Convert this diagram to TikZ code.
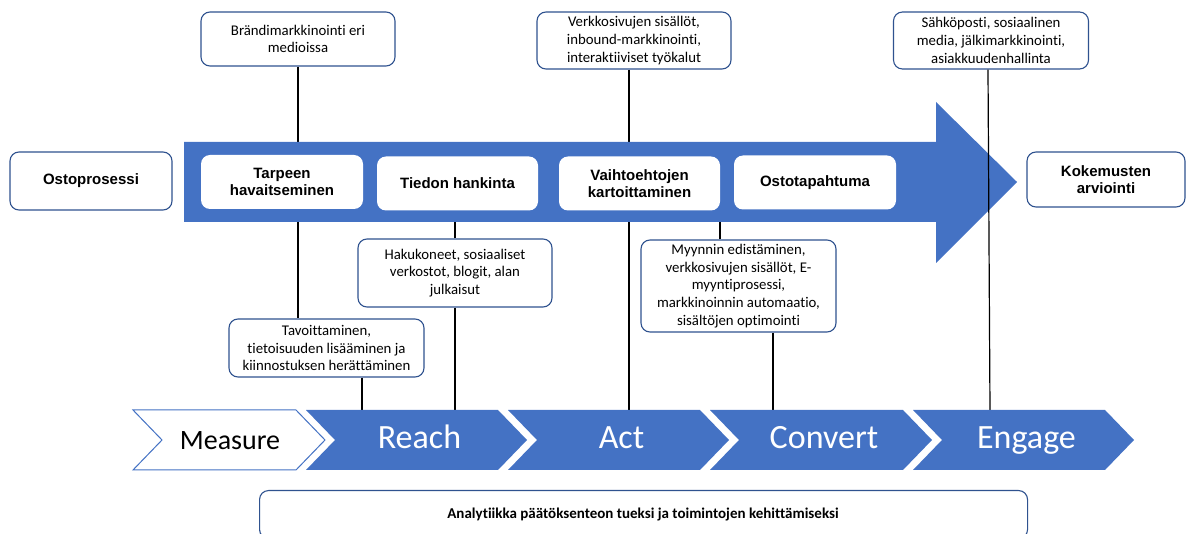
\documentclass[tikz,border=0pt]{standalone}
\usepackage{fontspec}
\setmainfont{Carlito}[Ligatures=NoCommon]
\newfontfamily\arialf{Liberation Sans}
\definecolor{obl}{HTML}{4472C4}
\definecolor{bord}{HTML}{2F528F}
\newcommand\chevshape[3]{%
  \path[#3] (#1,410) -- (#2,410) -- ({#2+29},440) -- (#2,470) -- (#1,470) -- ({#1+29},440) -- cycle;}
\begin{document}
\begin{tikzpicture}[x=1pt,y=-1pt,
  info/.style={draw=bord, line width=1.1pt, rounded corners=9pt, fill=white, align=center,
    inner sep=0pt, font=\fontsize{14.8}{17.8}\selectfont},
  stagebox/.style={fill=white, rounded corners=9pt, align=center, inner sep=0pt,
    minimum width=162pt, minimum height=54pt,
    font=\arialf\bfseries\fontsize{15}{17.7}\selectfont},
  conn/.style={line width=1.3pt, black},
  chevlabel/.style={anchor=base, inner sep=0pt, font=\fontsize{34}{36}\selectfont}]
\path[use as bounding box] (0,0) rectangle (1187,534);
\clip (0,0) rectangle (1187,534);

% coordinates on the arrow and chevrons
\coordinate (abot) at (0,222);
\coordinate (chevtop) at (0,410);
\coordinate (tv) at (362,410);
\coordinate (ac) at (629,410);
\coordinate (mt) at (720,222);
\coordinate (cv) at (773,410);
\coordinate (en) at (990,410);

% top info boxes
\node[info, minimum width=194pt, minimum height=54pt] (brand) at (298,39)
  {Brändimarkkinointi eri\\ medioissa};
\node[info, minimum width=194pt, minimum height=57pt] (verkko) at (634,40.5)
  {Verkkosivujen sisällöt,\\ inbound-markkinointi,\\ interaktiiviset työkalut};
\node[info, minimum width=195pt, minimum height=57pt] (sahko) at (991,40.5)
  {Sähköposti, sosiaalinen\\ media, jälkimarkkinointi,\\ asiakkuudenhallinta};

% lower info boxes
\node[info, minimum width=194pt, minimum height=68pt] (hakuk) at (455,273)
  {Hakukoneet, sosiaaliset\\ verkostot, blogit, alan\\ julkaisut};
\node[info, minimum width=195pt, minimum height=58pt] (tavoit) at (326.5,348)
  {Tavoittaminen,\\ tietoisuuden lisääminen ja\\ kiinnostuksen herättäminen};
\node[info, minimum width=195pt, minimum height=92pt] (myyn) at (738.5,286)
  {Myynnin edistäminen,\\ verkkosivujen sisällöt, E-\\ myyntiprosessi,\\ markkinoinnin automaatio,\\ sisältöjen optimointi};

% connectors (under the arrow)
\draw[conn] (brand.south) -- (brand.south |- tavoit.north);
\draw[conn] (hakuk.north) -- (hakuk.north |- abot);
\draw[conn] (hakuk.south) -- (hakuk.south |- chevtop);
\draw[conn] (tavoit.south -| tv) -- (tv);
\draw[conn] (verkko.south -| ac) -- (ac);
\draw[conn] (myyn.north -| mt) -- (mt);
\draw[conn] (myyn.south -| cv) -- (cv);

% big arrow
\fill[obl] (184,142) -- (936,142) -- (936,102) -- (1017,182) -- (936,263) -- (936,222) -- (184,222) -- cycle;

% process stages
\node[stagebox] (tarpeen) at (282,182) {Tarpeen\\ havaitseminen};
\node[stagebox, minimum width=161pt] (tiedon) at (457.5,183.5) {Tiedon hankinta};
\node[stagebox, minimum width=161pt] (vaihto) at (639.5,183.5) {Vaihtoehtojen\\ kartoittaminen};
\node[stagebox] (ostotap) at (815,182.5) {Ostotapahtuma};
\node[stagebox, draw=bord, line width=1.1pt, minimum height=58pt] (osto) at (91,181) {Ostoprosessi};
\node[stagebox, draw=bord, line width=1.1pt, minimum width=158pt, minimum height=55pt] (kokem) at (1106,179.5) {Kokemusten\\ arviointi};

% line over the arrow head
\draw[conn, line width=1.2pt] ([xshift=-3pt]sahko.south) -- (en);

% chevrons
\chevshape{133}{296}{fill=white, draw=obl, line width=1pt}
\chevshape{306}{498}{fill=obl}
\chevshape{508}{700}{fill=obl}
\chevshape{710}{903}{fill=obl}
\chevshape{913}{1105}{fill=obl}
\node[chevlabel, text=black, font=\fontsize{28}{30}\selectfont] (measure) at (230,450) {Measure};
\node[chevlabel, text=white] (reach) at (419.5,448.5) {Reach};
\node[chevlabel, text=white] (act) at (621.5,448.5) {Act};
\node[chevlabel, text=white] (convert) at (824,448.5) {Convert};
\node[chevlabel, text=white] (engage) at (1026.5,448.5) {Engage};

% bottom box
\node[info, minimum width=768pt, minimum height=48pt, anchor=north west] (analyt) at (259,490) {};
\node[inner sep=0pt, font=\bfseries\fontsize{15}{17}\selectfont] (analytxt) at (643,515)
  {Analytiikka päätöksenteon tueksi ja toimintojen kehittämiseksi};
\end{tikzpicture}
\end{document}
